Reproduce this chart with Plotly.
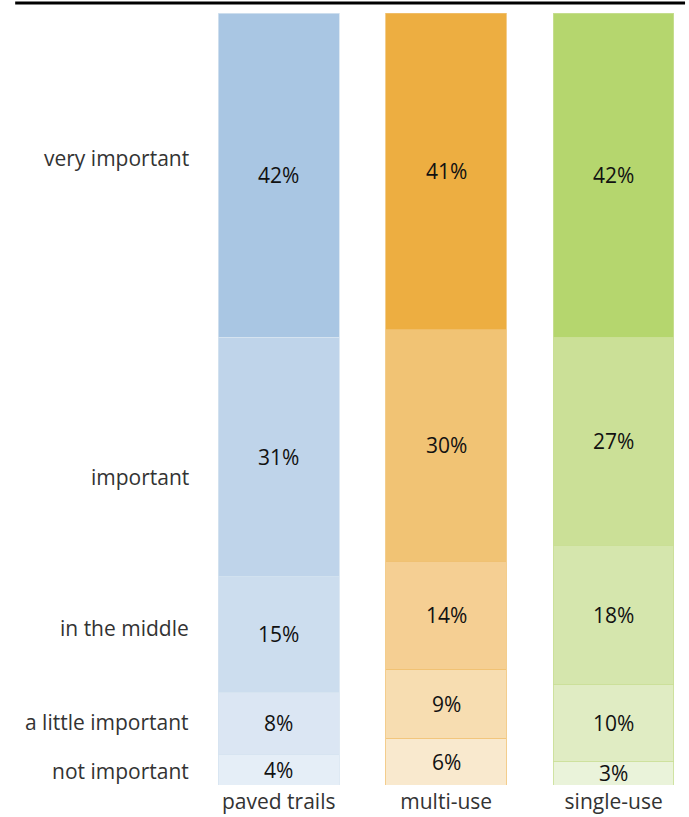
import numpy as np
import plotly.graph_objects as go

# Trail types (x categories) and importance levels (stacked from bottom to top)
trail_types = ["paved trails", "multi-use", "single-use"]
levels = ["not important", "a little important", "in the middle", "important", "very important"]

# Percent of respondents per importance level, bottom to top
paved_trails = [4, 8, 15, 31, 42]
multi_use = [6, 9, 14, 30, 41]
single_use = [3, 10, 18, 27, 42]

# Vertical placement of the row labels on the left (in percent units)
level_label_y = [1.8, 8.2, 20.3, 39.9, 81.2]

# Fill shades per trail type, light (bottom) to dark (top)
blue_shades = ["#E5EEF7", "#DBE6F3", "#CCDDEE", "#BFD4EA", "#A9C6E3"]
orange_shades = ["#F9E9CE", "#F7DDB1", "#F5CF93", "#F1C374", "#EDAE41"]
green_shades = ["#EAF3DA", "#E0ECC3", "#D5E6AD", "#CBE097", "#B5D66E"]
edge_colors = ["#D6E3F0", "#F0C070", "#C9DE95"]

FONT = "Open Sans"
series = [paved_trails, multi_use, single_use]
shades = [blue_shades, orange_shades, green_shades]

fig = go.Figure()
for xi, (vals, cols, edge) in enumerate(zip(series, shades, edge_colors)):
    for lvl, v, c in zip(levels, vals, cols):
        fig.add_trace(go.Bar(
            x=[trail_types[xi]], y=[v], name=lvl,
            marker=dict(color=c, line=dict(color=edge, width=0.8)),
            showlegend=False, hoverinfo="skip",
        ))

# Percent labels centred in each segment
annotations = []
for xi, vals in enumerate(series):
    cum = np.cumsum([0] + vals)
    for k, v in enumerate(vals):
        annotations.append(dict(
            x=trail_types[xi], y=(cum[k] + cum[k + 1]) / 2, xref="x", yref="y",
            text=f"{v}%", showarrow=False,
            font=dict(family=FONT, size=21, color="#111111"),
        ))

# Row labels on the left
for lvl, ly in zip(levels, level_label_y):
    annotations.append(dict(
        x=-0.008, y=ly, xref="paper", yref="y", xanchor="right",
        text=lvl, showarrow=False,
        font=dict(family=FONT, size=21, color="#333333"),
    ))

fig.update_layout(
    barmode="stack",
    bargap=0.28,
    width=689, height=817,
    margin=dict(l=195, r=0, t=13, b=32, autoexpand=False),
    paper_bgcolor="white", plot_bgcolor="white",
    annotations=annotations,
    shapes=[dict(type="line", xref="paper", yref="paper",
                 x0=-0.364, x1=0.992, y0=1.013, y1=1.013,
                 line=dict(color="black", width=3))],
    xaxis=dict(range=[-0.5, 2.45], showgrid=False, zeroline=False, showline=False,
               ticks="", ticklabelstandoff=2, automargin=False,
               tickfont=dict(family=FONT, size=21, color="#333333")),
    yaxis=dict(range=[0, 100], visible=False, automargin=False),
    font=dict(family=FONT),
)

fig.write_html("out.html")
